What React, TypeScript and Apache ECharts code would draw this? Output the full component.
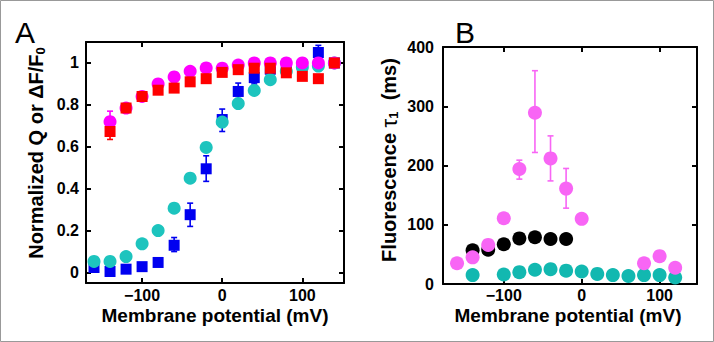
import React, { useEffect, useRef } from "react";
import * as echarts from "echarts";

const FONT = "'Liberation Sans', Arial, Helvetica, sans-serif";

// Panel A data (membrane potential, mV)
const xA = [-160, -140, -120, -100, -80, -60, -40, -20, 0, 20, 40, 60, 80, 100, 120, 140];
const qBlue = [0.024, 0.005, 0.016, 0.028, 0.048, 0.13, 0.276, 0.495, 0.73, 0.864, 0.93, 0.97, 0.98, 0.99, 1.05, 1.0];
const fCyan = [0.053, 0.053, 0.076, 0.137, 0.2, 0.307, 0.45, 0.597, 0.718, 0.806, 0.869, 0.92, 0.96, 0.98, 0.985, 1.0];
const fMagenta = [null, 0.72, 0.785, 0.84, 0.9, 0.933, 0.96, 0.976, 0.975, 0.99, 1.0, 1.0, 1.0, 1.0, 1.0, 1.0];
const qRed = [null, 0.673, 0.785, 0.84, 0.87, 0.88, 0.91, 0.925, 0.955, 0.968, 0.975, 0.975, 0.953, 0.936, 0.925, 1.0];
const errBlue = [[-60, 0.1, 0.167], [-40, 0.22, 0.331], [-20, 0.435, 0.557], [0, 0.673, 0.78], [20, 0.83, 0.904], [40, 0.9, 0.968], [120, 1.0, 1.084]];
const errMagenta = [[-140, 0.7, 0.77]];
const errRed = [[-140, 0.635, 0.715], [-120, 0.765, 0.805], [-100, 0.82, 0.86]];
const ticksAx = [-100, 0, 100];
const ticksAy = [0, 0.2, 0.4, 0.6, 0.8, 1];

// Panel B data
const xB = [-160, -140, -120, -100, -80, -60, -40, -20, 0, 20, 40, 60, 80, 100, 120];
const tauPink = [35, 45, 66, 111, 194, 289, 212, 161, 110, null, null, null, 35, 47, 27.5];
const tauBlack = [null, 57, 58, 67, 77, 79, 76, 76, null, null, null, null, null, null, null];
const tauTeal = [null, 15, null, 16, 20, 24, 25, 22.5, 21, 17, 15, 13.5, 15, 15, 11];
const errPink = [[-80, 177, 209], [-60, 222, 360], [-40, 174, 250], [-20, 128, 195]];
const ticksBx = [-100, 0, 100];
const ticksBy = [0, 100, 200, 300, 400];

const C_BLUE = "#0000F0";
const C_CYAN = "#1DC4BE";
const C_MAGENTA = "#FF00FF";
const C_RED = "#FF0000";
const C_PINK = "#F865F5";
const C_BLACK = "#000000";
const C_TEAL = "#12B8B0";

function pairs(xs: number[], ys: (number | null)[]) {
  const out: number[][] = [];
  xs.forEach((x, i) => {
    const y = ys[i];
    if (y !== null && y !== undefined) out.push([x, y]);
  });
  return out;
}

function errSeries(data: number[][], color: string, xi: number, yi: number) {
  return {
    type: "custom",
    xAxisIndex: xi,
    yAxisIndex: yi,
    data,
    silent: true,
    renderItem: (params: any, api: any) => {
      const x = api.value(0);
      const lo = api.coord([x, api.value(1)]);
      const hi = api.coord([x, api.value(2)]);
      const w = 3;
      const st = { stroke: color, lineWidth: 1.6 };
      return {
        type: "group",
        children: [
          { type: "line", shape: { x1: lo[0], y1: lo[1], x2: hi[0], y2: hi[1] }, style: st },
          { type: "line", shape: { x1: lo[0] - w, y1: lo[1], x2: lo[0] + w, y2: lo[1] }, style: st },
          { type: "line", shape: { x1: hi[0] - w, y1: hi[1], x2: hi[0] + w, y2: hi[1] }, style: st },
        ],
      };
    },
  };
}

function scatter(data: number[][], color: string, symbol: string, size: number, xi: number, yi: number) {
  return {
    type: "scatter",
    xAxisIndex: xi,
    yAxisIndex: yi,
    data,
    symbol,
    symbolSize: size,
    itemStyle: { color, opacity: 1 },
    silent: true,
  };
}

const fmtMinus = (v: number) => String(v).replace("-", "\u2212");

function axisPair(gridIndex: number, min: number, max: number, ticks: number[], isX: boolean, margin: number) {
  const common = {
    gridIndex,
    type: "value",
    min,
    max,
    splitLine: { show: false },
    axisLine: { show: true, onZero: false, lineStyle: { color: "#000", width: 2 } },
  };
  const main = {
    ...common,
    position: isX ? "bottom" : "left",
    axisTick: { show: true, inside: true, length: 5, lineStyle: { color: "#000", width: 2 }, customValues: ticks },
    axisLabel: {
      show: true,
      customValues: ticks,
      margin,
      color: "#000",
      fontFamily: FONT,
      fontWeight: "bold",
      fontSize: 16,
      lineHeight: 16,
      formatter: (v: number) => fmtMinus(v),
    },
  };
  const mirror = {
    ...common,
    position: isX ? "top" : "right",
    axisTick: { show: true, inside: true, length: 5, lineStyle: { color: "#000", width: 2 }, customValues: ticks },
    axisLabel: { show: false },
  };
  return [main, mirror];
}

export default function App() {
  const ref = useRef<HTMLDivElement>(null);
  useEffect(() => {
    document.body.style.margin = "0";
    if (!ref.current) return;
    const chart = echarts.init(ref.current, undefined, { renderer: "svg" });
    const option: any = {
      animation: false,
      backgroundColor: "#fff",
      grid: [
        { left: 86, top: 42, width: 258, height: 241 },
        { left: 443, top: 47, width: 254, height: 237 },
      ],
      xAxis: [
        ...axisPair(0, -170, 152, ticksAx, true, 4),
        ...axisPair(1, -178, 148, ticksBx, true, 3),
      ],
      yAxis: [
        ...axisPair(0, -0.05, 1.1, ticksAy, false, 7),
        ...axisPair(1, 0, 400, ticksBy, false, 9),
      ],
      series: [
        errSeries(errBlue, C_BLUE, 0, 0),
        scatter(pairs(xA, qBlue), C_BLUE, "rect", 11, 0, 0),
        scatter(pairs(xA, fCyan), C_CYAN, "circle", 13, 0, 0),
        errSeries(errMagenta, C_MAGENTA, 0, 0),
        scatter(pairs(xA, fMagenta), C_MAGENTA, "circle", 13, 0, 0),
        errSeries(errRed, C_RED, 0, 0),
        scatter(pairs(xA, qRed), C_RED, "rect", 11, 0, 0),

        scatter(pairs(xB, tauTeal), C_TEAL, "circle", 14, 2, 2),
        scatter(pairs(xB, tauBlack), C_BLACK, "circle", 14, 2, 2),
        errSeries(errPink, C_PINK, 2, 2),
        scatter(pairs(xB, tauPink), C_PINK, "circle", 14, 2, 2),
      ],
      graphic: [
        {
          type: "rect",
          shape: { x: 0.5, y: 0.5, width: 713, height: 341 },
          style: { fill: "none", stroke: "#999", lineWidth: 1 },
          silent: true,
        },
        {
          type: "text",
          x: 15,
          y: 32,
          style: { text: "A", fontFamily: FONT, fontSize: 30, fill: "#000", align: "left", verticalAlign: "middle" },
        },
        {
          type: "text",
          x: 455,
          y: 32,
          style: { text: "B", fontFamily: FONT, fontSize: 30, fill: "#000", align: "left", verticalAlign: "middle" },
        },
        {
          type: "text",
          x: 215,
          y: 315,
          style: {
            text: "Membrane potential (mV)",
            fontFamily: FONT,
            fontWeight: "bold",
            fontSize: 19,
            fill: "#000",
            align: "center",
            verticalAlign: "middle",
          },
        },
        {
          type: "text",
          x: 568,
          y: 315,
          style: {
            text: "Membrane potential (mV)",
            fontFamily: FONT,
            fontWeight: "bold",
            fontSize: 19,
            fill: "#000",
            align: "center",
            verticalAlign: "middle",
          },
        },
        {
          type: "text",
          x: 36,
          y: 153,
          rotation: Math.PI / 2,
          style: {
            text: "{a|Normalized Q or \u0394F/F}{s|0}",
            align: "center",
            verticalAlign: "middle",
            fill: "#000",
            rich: {
              a: { fontFamily: FONT, fontWeight: "bold", fontSize: 20, lineHeight: 22, verticalAlign: "middle" },
              s: { fontFamily: FONT, fontWeight: "bold", fontSize: 13, lineHeight: 10, verticalAlign: "bottom" },
            },
          },
        },
        {
          type: "text",
          x: 389,
          y: 160,
          rotation: Math.PI / 2,
          style: {
            text: "{a|Fluorescence }{t|\u03C4}{s|1}{a|  (ms)}",
            align: "center",
            verticalAlign: "middle",
            fill: "#000",
            rich: {
              a: { fontFamily: FONT, fontWeight: "bold", fontSize: 20, lineHeight: 22, verticalAlign: "middle" },
              t: { fontFamily: FONT, fontSize: 22, lineHeight: 22, verticalAlign: "middle" },
              s: { fontFamily: FONT, fontWeight: "bold", fontSize: 13, lineHeight: 10, verticalAlign: "bottom" },
            },
          },
        },
      ],
    };
    chart.setOption(option);
    return () => chart.dispose();
  }, []);
  return <div ref={ref} style={{ width: 714, height: 342 }} />;
}
